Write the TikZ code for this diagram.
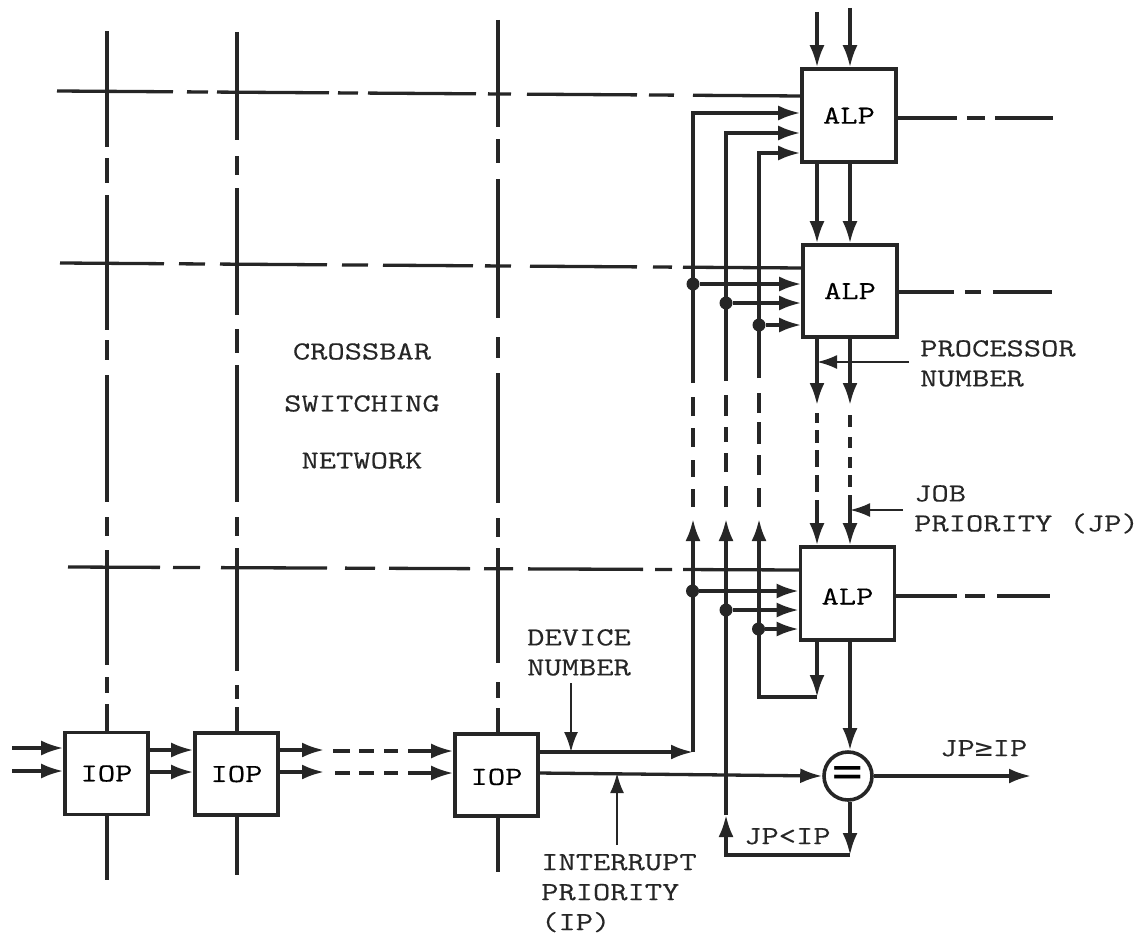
\documentclass[tikz,border=0pt]{standalone}
\usepackage{fontspec}
\newfontfamily\labfont{Latin Modern Mono}[FakeStretch=1.29, FakeBold=0.35]
\newfontfamily\symfont{DejaVu Sans Mono}[FakeStretch=1.15]
\usetikzlibrary{arrows.meta}

\begin{document}
\begin{tikzpicture}[
  x=1pt, y=-1pt,
  unitbox/.style={rectangle, draw=black!85, fill=white, line width=3.6pt, inner sep=0pt,
                  font=\labfont\fontsize{26}{30}\selectfont},
  alp/.style={unitbox, minimum width=94pt, minimum height=93pt},
  iop/.style={unitbox, minimum width=83pt, minimum height=82pt},
  cmpbox/.style={circle, draw=black!85, fill=white, line width=3.6pt, inner sep=0pt, minimum size=48pt,
                 font=\symfont\fontsize{44}{44}\selectfont},
  wire/.style={line width=3.3pt, draw=black!85},
  arr/.style={wire, -{Latex[length=22pt, width=15pt]}},
  leader/.style={line width=2.3pt, draw=black!85, -{Latex[length=20pt, width=14pt]}},
  dot/.style={circle, fill=black!85, inner sep=0pt, minimum size=13pt},
  lbl/.style={font=\labfont\fontsize{26}{30}\selectfont, color=black!85, inner sep=0pt, align=left, anchor=north west},
]
  \useasboundingbox (0,0) rectangle (1139,934);

  % Crossbar lines, drawn first so that the boxes cover them
  \coordinate (v1top) at (107,31);
  \coordinate (v2top) at (237,32);
  \coordinate (v3top) at (498,20);
  \coordinate (v1bot) at (107,880);
  \coordinate (v2bot) at (237,875);
  \coordinate (v3bot) at (498,872);
  \coordinate (h1left) at (57,91);
  \coordinate (h2left) at (60,263);
  \coordinate (h3left) at (68,567);
  \coordinate (h1end) at (802,96);
  \coordinate (h2end) at (803,268);
  \coordinate (h3end) at (801,570);

  % ALPs
  \node[alp] (alp1) at (849,115.5) {ALP};
  \node[alp, minimum height=92pt] (alp2) at (850,291) {ALP};
  \node[alp, text height=22pt] (alp3) at (847.5,593.5) {ALP};

  % IOPs
  \node[iop] (iop1) at (106.5,773.5) {IOP};
  \node[iop] (iop2) at (236.5,774) {IOP};
  \node[iop, text height=20pt] (iop3) at (496.5,775) {IOP};

  % Comparator
  \node[cmpbox] (cmp) at (848,776) {=};

  % Vertical lines
  \draw[wire, dash pattern=on 116pt off 11pt on 25pt off 12pt on 135pt off 10pt on 20pt off 15pt on 127pt off 15pt on 19pt off 14pt on 115pt off 12pt on 16pt off 11pt on 29pt off 50pt]
    (v1top) -- (v1top |- iop1.north);
  \draw[wire, dash pattern=on 108pt off 16pt on 19pt off 13pt on 127pt off 14pt on 24pt off 12pt on 137pt off 15pt on 19pt off 12pt on 123pt off 14pt on 14pt off 8pt on 26pt off 50pt]
    (v2top) -- (v2top |- iop2.north);
  \draw[wire, dash pattern=on 107pt off 12pt on 24pt off 16pt on 139pt off 19pt on 21pt off 15pt on 130pt off 15pt on 19pt off 11pt on 115pt off 19pt on 16pt off 10pt on 27pt off 50pt]
    (v3top) -- (v3top |- iop3.north);
  \draw[wire] (v1bot |- iop1.south) -- (v1bot);
  \draw[wire] (v2bot |- iop2.south) -- (v2bot);
  \draw[wire] (v3bot |- iop3.south) -- (v3bot);

  % Horizontal lines
  \draw[wire, dash pattern=on 116pt off 14pt on 21pt off 9pt on 112pt off 9pt on 20pt off 10pt on 108pt off 12pt on 23pt off 16pt on 110pt off 12pt on 25pt off 19pt on 200pt]
    (h1left) -- (h1end);
  \draw[wire, dash pattern=on 104pt off 15pt on 26pt off 15pt on 107pt off 15pt on 26pt off 15pt on 90pt off 12pt on 26pt off 19pt on 107pt off 16pt on 19pt off 11pt on 200pt]
    (h2left) -- (h2end);
  \draw[wire, dash pattern=on 92pt off 13pt on 27pt off 21pt on 106pt off 18pt on 30pt off 14pt on 81pt off 14pt on 29pt off 15pt on 115pt off 12pt on 17pt off 11pt on 200pt]
    (h3left) -- (h3end);

  % ALP outputs to the right
  \coordinate (out1) at (1053,118);
  \coordinate (out2) at (1052,292);
  \coordinate (out3) at (1050,596);
  \draw[wire, dash pattern=on 59pt off 10pt on 18pt off 10pt on 60pt] (alp1.east |- out1) -- (out1);
  \draw[wire, dash pattern=on 55pt off 11pt on 16pt off 12pt on 61pt] (alp2.east |- out2) -- (out2);
  \draw[wire, dash pattern=on 61pt off 8pt on 20pt off 12pt on 55pt] (alp3.east |- out3) -- (out3);

  % Links between the ALPs
  \coordinate (inA) at (817,12);
  \coordinate (inB) at (850,8);
  \coordinate (tipA) at (817,405);
  \coordinate (tipB) at (850,405);
  \coordinate (resA) at (817,413);
  \coordinate (resB) at (850,415);
  \draw[arr] (inA) -- (inA |- alp1.north);
  \draw[arr] (inB) -- (inB |- alp1.north);
  \draw[arr] (inA |- alp1.south) -- (inA |- alp2.north);
  \draw[arr] (inB |- alp1.south) -- (inB |- alp2.north);
  \draw[arr] (inA |- alp2.south) -- (tipA);
  \draw[arr] (inB |- alp2.south) -- (tipB);
  \draw[arr, dash pattern=on 10pt off 7pt on 13pt off 7pt on 17pt off 8pt on 17pt off 8pt on 200pt] (resA) -- (resA |- alp3.north);
  \draw[arr, dash pattern=on 12pt off 10pt on 11pt off 9pt on 11pt off 7pt on 12pt off 8pt on 200pt] (resB) -- (resB |- alp3.north);

  % Bus A, device number
  \coordinate (busA) at (693,752);
  \coordinate (busAtip) at (693,519);
  \coordinate (busAres) at (693,507);
  \coordinate (alp1A) at (alp1.west |- 0,113);
  \node[dot] (dotA2) at (693,284) {};
  \node[dot] (dotA3) at (692.5,591) {};
  \draw[arr] (iop3.east |- busA) -- (busA);
  \draw[arr] (busA) -- (busAtip);
  \draw[arr, dash pattern=on 18pt off 12pt on 17pt off 13pt on 19pt off 12pt on 19pt off 14pt on 800pt] (busAres) |- (alp1A);
  \draw[arr] (dotA2) -- (alp2.west |- dotA2);
  \draw[arr] (dotA3) -- (alp3.west |- dotA3);

  % Bus B, interrupt priority
  \coordinate (busBlow) at (850,855);
  \coordinate (busBmid) at (726,815);
  \coordinate (busBtip) at (726,519);
  \coordinate (busBres) at (726,507);
  \coordinate (alp1B) at (alp1.west |- 0,133);
  \node[dot] (dotB2) at (726,303) {};
  \node[dot] (dotB3) at (726,610) {};
  \draw[arr] (cmp.south -| busBlow) -- (busBlow);
  \draw[arr] (busBlow) -| (busBmid);
  \draw[arr] (busBmid) -- (busBtip);
  \draw[arr, dash pattern=on 21pt off 14pt on 19pt off 11pt on 15pt off 11pt on 21pt off 14pt on 800pt] (busBres) |- (alp1B);
  \draw[arr] (dotB2) -- (alp2.west |- dotB2);
  \draw[arr] (dotB3) -- (alp3.west |- dotB3);

  % Bus C, processor number
  \coordinate (busClow) at (817,697);
  \coordinate (busCtip) at (759,519);
  \coordinate (busCres) at (759,507);
  \coordinate (alp1C) at (alp1.west |- 0,153);
  \node[dot] (dotC2) at (759,325) {};
  \node[dot] (dotC3) at (758.5,629) {};
  \draw[arr] (inA |- alp3.south) -- (busClow);
  \draw[arr] (busClow) -| (busCtip);
  \draw[arr, dash pattern=on 19pt off 13pt on 20pt off 11pt on 22pt off 9pt on 20pt off 15pt on 800pt] (busCres) |- (alp1C);
  \draw[arr] (dotC2) -- (alp2.west |- dotC2);
  \draw[arr] (dotC3) -- (alp3.west |- dotC3);

  % Comparator links
  \coordinate (cmpin) at (538,773);
  \coordinate (cmpout) at (1031,776);
  \draw[arr] (cmpin) -- (cmp.west);
  \draw[arr] (inB |- alp3.south) -- (inB |- cmp.north);
  \draw[arr] (cmp.east) -- (cmpout);

  % IOP chain
  \coordinate (src1) at (12,748);
  \coordinate (src2) at (12,771);
  \coordinate (lnk1) at (0,750);
  \coordinate (lnk2) at (0,772);
  \coordinate (gapA) at (324,750);
  \coordinate (gapB) at (324,772);
  \coordinate (resC) at (333,751);
  \coordinate (resD) at (335,773);
  \draw[arr] (src1) -- (iop1.west |- src1);
  \draw[arr] (src2) -- (iop1.west |- src2);
  \draw[arr] (iop1.east |- lnk1) -- (iop2.west |- lnk1);
  \draw[arr] (iop1.east |- lnk2) -- (iop2.west |- lnk2);
  \draw[arr] (iop2.east |- gapA) -- (gapA);
  \draw[arr] (iop2.east |- gapB) -- (gapB);
  \draw[arr, dash pattern=on 17pt off 9pt on 15pt off 10pt on 14pt off 10pt on 60pt] (resC) -- (iop3.west |- resC);
  \draw[arr, dash pattern=on 15pt off 9pt on 15pt off 10pt on 14pt off 10pt on 60pt] (resD) -- (iop3.west |- resD);

  % Labels
  \node[lbl, align=center, anchor=north] (title) at (362,343) {CROSSBAR\\[22pt]SWITCHING\\[27pt]NETWORK};
  \node[lbl] (procnum) at (920,340) {PROCESSOR\\NUMBER};
  \node[lbl] (jobprio) at (914,485) {JOB\\PRIORITY (JP)};
  \node[lbl] (devnum) at (527,629) {DEVICE\\NUMBER};
  \node[lbl] (intprio) at (541,854) {INTERRUPT\\PRIORITY\\(IP)};
  \node[lbl] (jpge) at (940,740) {JP{\symfont≥}IP};
  \node[lbl] (jplt) at (744,828) {JP<IP};

  % Label arrows
  \coordinate (procfrom) at (909,362);
  \coordinate (jobfrom) at (903,510);
  \coordinate (devfrom) at (571,683);
  \coordinate (intfrom) at (617,845);
  \draw[leader] (procfrom) -- (procfrom -| inA);
  \draw[leader] (jobfrom) -- (jobfrom -| inB);
  \draw[leader] (devfrom) -- (devfrom |- busA);
  \draw[leader] (intfrom) -- (intfrom |- cmpin);
\end{tikzpicture}
\end{document}
